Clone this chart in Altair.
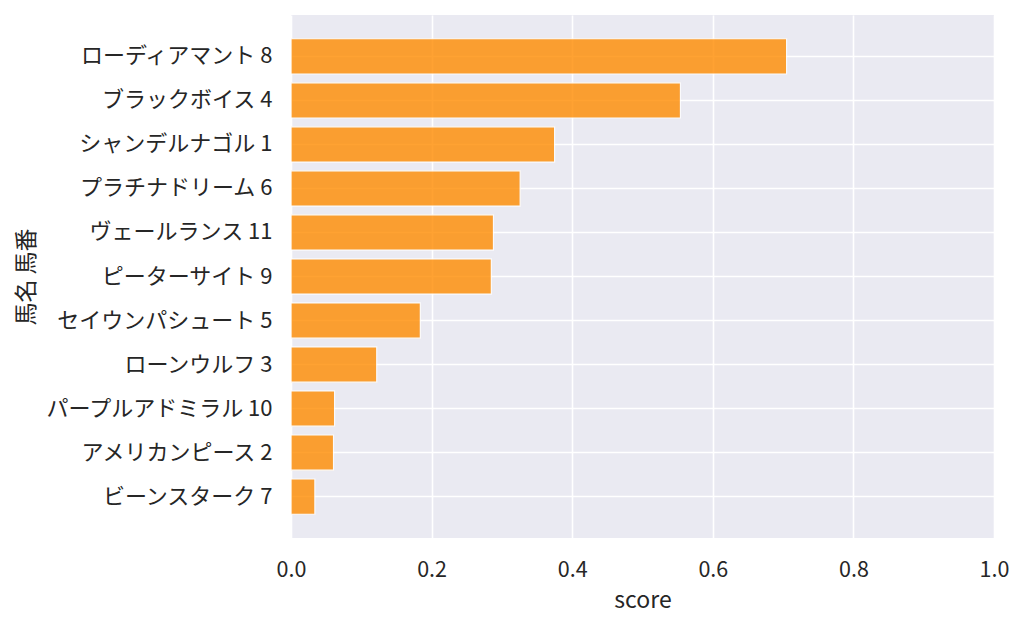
import altair as alt
import pandas as pd

horses = ["ローディアマント 8", "ブラックボイス 4", "シャンデルナゴル 1", "プラチナドリーム 6",
          "ヴェールランス 11", "ピーターサイト 9", "セイウンパシュート 5", "ローンウルフ 3",
          "パープルアドミラル 10", "アメリカンピース 2", "ビーンスターク 7"]
scores = [0.705, 0.554, 0.375, 0.326, 0.288, 0.285, 0.184, 0.122, 0.062, 0.0605, 0.034]
x_ticks = [0.0, 0.2, 0.4, 0.6, 0.8, 1.0]

df = pd.DataFrame({"馬名 馬番": horses, "score": scores})

FONT = "Noto Sans CJK JP"
TEXT = "#262626"
W, H = 703, 523

chart = alt.Chart(df).mark_bar(
    color="#ff8c00", opacity=0.8, stroke="white", strokeWidth=1.2
).encode(
    x=alt.X("score:Q",
            scale=alt.Scale(domain=[0, 1], nice=False, zero=True),
            axis=alt.Axis(values=x_ticks, format=".1f", grid=True, gridColor="white",
                          gridWidth=1.6, domain=False, ticks=False, tickSize=0,
                          labelFont=FONT, labelFontSize=21.5, labelColor=TEXT,
                          labelBaseline="alphabetic", labelPadding=38,
                          labelFlush=False,
                          title="score", titleFont=FONT, titleFontSize=23,
                          titleFontWeight="normal", titleColor=TEXT,
                          titleBaseline="alphabetic", titleX=W / 2, titleY=69,
                          titleAnchor="middle", titleAlign="center")),
    y=alt.Y("馬名 馬番:N", sort=None,
            scale=alt.Scale(paddingInner=0.2, paddingOuter=0.54),
            axis=alt.Axis(grid=True, gridColor="white", gridWidth=1.6, bandPosition=0.5,
                          domain=False, ticks=False, tickSize=0,
                          labelFont=FONT, labelFontSize=22, labelColor=TEXT,
                          labelPadding=19, labelLimit=400,
                          title="馬名 馬番", titleFont=FONT, titleFontSize=23,
                          titleFontWeight="normal", titleColor=TEXT,
                          titleAngle=270, titleBaseline="middle", titleAlign="center",
                          titleX=-265, titleY=H / 2)),
).properties(
    width=W, height=H,
    autosize=alt.AutoSizeParams(type="none"),
    padding={"left": 283, "top": 7, "right": 22, "bottom": 81},
    background="white",
).configure_view(
    fill="#eaeaf2", strokeWidth=0
)

chart.save("out.html", embed_options={"renderer": "svg", "actions": False})
